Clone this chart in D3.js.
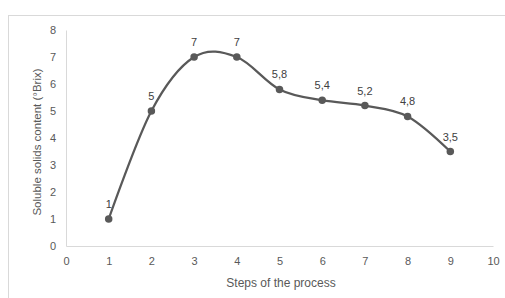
<!DOCTYPE html>
<html><head><meta charset="utf-8">
<script src="https://cdn.jsdelivr.net/npm/d3@7"></script>
<style>body{margin:0;background:#fff}svg{display:block}</style>
</head><body>
<svg id="c" width="505" height="298"></svg>
<script>
const steps = [1,2,3,4,5,6,7,8,9];
const brix = [1,5,7,7,5.8,5.4,5.2,4.8,3.5];
const labels = ["1","5","7","7","5,8","5,4","5,2","4,8","3,5"];
const xTicks = [0,1,2,3,4,5,6,7,8,9,10];
const yTicks = [0,1,2,3,4,5,6,7,8];
const xTitle = "Steps of the process";
const yTitle = "Soluble solids content (°Brix)";

const svg = d3.select("#c");
const font = "Liberation Sans, Arial, sans-serif";
const grey = "#595959";
// chart border
svg.append("rect").attr("x",8.5).attr("y",15.5).attr("width",510).attr("height",300)
  .attr("fill","#fff").attr("stroke","#d9d9d9").attr("stroke-width",1);

const x = d3.scaleLinear().domain([0,10]).range([66,493]);
const y = d3.scaleLinear().domain([0,8]).range([246,30]);

const xAxis = svg.append("g").attr("transform","translate(0,246)")
  .call(d3.axisBottom(x).tickValues(xTicks).tickSize(0).tickPadding(11).tickFormat(d3.format("d")));
const yAxis = svg.append("g").attr("transform","translate(66,0)")
  .call(d3.axisLeft(y).tickValues(yTicks).tickSize(0).tickPadding(10).tickFormat(d3.format("d")));
[xAxis,yAxis].forEach(g=>{
  g.select(".domain").attr("stroke","#d9d9d9").attr("stroke-width",1);
  g.selectAll("text").attr("fill",grey).attr("font-family",font).attr("font-size",11);
});

svg.append("text").attr("x",281).attr("y",287).attr("text-anchor","middle")
  .attr("font-family",font).attr("font-size",12).attr("fill",grey).text(xTitle);
svg.append("text").attr("transform","translate(41,142) rotate(-90)").attr("text-anchor","middle")
  .attr("font-family",font).attr("font-size",11.5).attr("fill",grey).text(yTitle);

const data = steps.map((s,i)=>({x:s,y:brix[i],l:labels[i]}));
const line = d3.line().x(d=>x(d.x)).y(d=>y(d.y)).curve(d3.curveCardinal.tension(0));
svg.append("path").datum(data).attr("d",line).attr("fill","none")
  .attr("stroke",grey).attr("stroke-width",2.25);
svg.selectAll("circle.pt").data(data).join("circle").attr("class","pt")
  .attr("cx",d=>x(d.x)).attr("cy",d=>y(d.y)).attr("r",3.75).attr("fill",grey);
svg.selectAll("text.lbl").data(data).join("text").attr("class","lbl")
  .attr("x",d=>x(d.x)).attr("y",d=>y(d.y)-11).attr("text-anchor","middle")
  .attr("font-family",font).attr("font-size",11).attr("fill","#404040").text(d=>d.l);
</script>
</body></html>
